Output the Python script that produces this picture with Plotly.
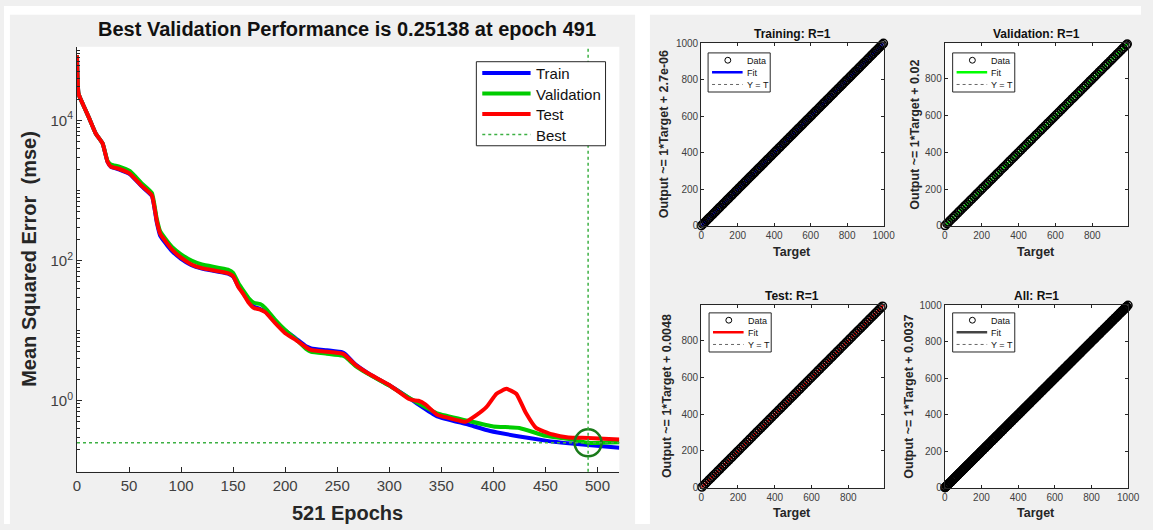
import plotly.graph_objects as go

# ---------------- performance curve data ----------------
epochs_train = [0, 1.5, 6, 12, 18, 24.6, 29.3, 32.5, 40, 51, 62, 72, 76.6, 80, 86, 91, 100,
                110, 120, 145, 150, 155, 160, 165, 170, 176, 181, 190, 200, 210, 220, 225,
                240, 255, 258, 268, 280, 300, 318, 326, 346, 375, 397, 425, 450, 475, 491, 521]
mse_train = [85000, 24000, 16600, 10500, 6500, 4700, 2570, 2190, 2000, 1700, 1150, 830, 355, 225, 170,
             138, 106, 86, 77, 65, 59, 43, 34, 26, 22, 20.4, 18.6, 13.5, 10.0,
             7.8, 6.0, 5.6, 5.25, 4.9, 4.6, 3.25, 2.45, 1.66, 1.12, 0.93, 0.60, 0.46, 0.37,
             0.31, 0.27, 0.245, 0.234, 0.214]

epochs_val = [0, 1.5, 6, 12, 18, 24.6, 29.3, 32.5, 40, 51, 62, 72, 76.6, 80, 86, 91, 100,
              110, 120, 145, 150, 155, 160, 165, 170, 176, 181, 190, 200, 210, 220, 225,
              240, 255, 258, 268, 280, 300, 318, 326, 346, 375, 400, 425, 450, 479, 491, 521]
mse_val = [85000, 24000, 16600, 10500, 6500, 4700, 2650, 2350, 2200, 1880, 1270, 920, 400, 260, 195,
           158, 123, 100, 88, 74, 67, 48, 37, 29, 25, 24, 21, 14.5, 10.2,
           7.6, 5.5, 5.0, 4.7, 4.4, 4.2, 3.1, 2.4, 1.65, 1.12, 0.96, 0.66, 0.52, 0.43,
           0.41, 0.316, 0.275, 0.25138, 0.257]

epochs_test = [0, 1.5, 6, 12, 18, 24.6, 29.3, 32.5, 40, 51, 62, 72, 76.6, 80, 86, 91, 100,
               110, 120, 145, 150, 155, 160, 165, 170, 176, 181, 190, 200, 210, 220, 225,
               240, 255, 258, 268, 280, 300, 318, 323, 328, 335, 346, 365, 373, 384, 393.5,
               403, 412.5, 422, 431, 441, 457, 472, 491, 521]
mse_test = [85000, 24000, 16600, 10500, 6500, 4700, 2570, 2190, 2040, 1730, 1170, 850, 370, 240, 180,
            145, 110, 88, 78, 66, 60, 42, 33, 25, 21, 20, 18.3, 13, 9.2,
            7.4, 5.8, 5.3, 5.0, 4.7, 4.4, 3.2, 2.45, 1.68, 1.08, 1.02, 1.0, 0.88, 0.63, 0.53, 0.50,
            0.63, 0.82, 1.26, 1.48, 1.26, 0.68, 0.41, 0.33, 0.30, 0.295, 0.28]

best_epoch = 491
best_perf = 0.25138
total_epochs = 521
x_ticks_perf = [0, 50, 100, 150, 200, 250, 300, 350, 400, 450, 500]
y_ticks_perf = [1, 100, 10000]
y_ticktext_perf = ["10<sup>0</sup>", "10<sup>2</sup>", "10<sup>4</sup>"]
perf_legend_names = ["Train", "Validation", "Test", "Best"]

# ---------------- regression data (points lie on Y = T, R = 1) ----------------
train_targets = [1, 9, 16, 24, 33, 41, 48, 57, 65, 72, 80, 89, 97, 104, 113, 121, 128, 137, 145, 152,
                 161, 169, 176, 185, 193, 200, 209, 217, 224, 233, 241, 248, 257, 265, 272, 281, 289,
                 296, 305, 313, 320, 329, 337, 344, 353, 361, 368, 377, 385, 392, 401, 409, 416, 425,
                 433, 440, 449, 457, 464, 473, 481, 488, 497, 505, 512, 521, 529, 536, 545, 553, 560,
                 569, 577, 584, 593, 601, 608, 617, 625, 632, 641, 649, 656, 665, 673, 680, 689, 697,
                 704, 713, 721, 728, 737, 745, 752, 761, 769, 776, 785, 793, 800, 809, 817, 824, 833,
                 841, 848, 857, 865, 872, 881, 889, 896, 905, 913, 920, 929, 937, 944, 953, 961, 968,
                 977, 985, 992, 999]
val_targets = [2, 12, 21, 31, 42, 51, 60, 71, 80, 90, 101, 110, 119, 130, 140, 149, 160, 169, 178, 189,
               199, 208, 219, 228, 237, 248, 258, 267, 278, 287, 296, 307, 317, 326, 337, 346, 355, 366,
               376, 385, 396, 405, 414, 425, 435, 444, 455, 464, 473, 484, 494, 503, 514, 523, 532, 543,
               553, 562, 573, 582, 591, 602, 612, 621, 632, 641, 650, 661, 671, 680, 691, 700, 709, 720,
               730, 739, 750, 759, 768, 779, 789, 798, 809, 818, 827, 838, 848, 857, 868, 877, 886, 897,
               907, 916, 927, 936, 945, 956, 966, 975, 985, 990]
test_targets = [4, 14, 24, 33, 44, 54, 63, 73, 83, 93, 102, 112, 122, 131, 141, 151, 161, 170, 180, 190,
                199, 209, 219, 229, 238, 248, 258, 267, 277, 287, 297, 306, 316, 326, 335, 345, 355, 365,
                374, 384, 394, 403, 413, 423, 433, 442, 452, 462, 471, 481, 491, 501, 510, 520, 530, 539,
                549, 559, 569, 578, 588, 598, 607, 617, 627, 637, 646, 656, 666, 675, 685, 695, 705, 714,
                724, 734, 743, 753, 763, 773, 782, 792, 802, 811, 821, 831, 841, 850, 860, 870, 879, 889,
                899, 909, 918, 928, 938, 947, 957, 967, 977, 986]
# outputs coincide with the targets in the picture (R = 1)
train_outputs = list(train_targets)
val_outputs = list(val_targets)
test_outputs = list(test_targets)
all_targets = train_targets + val_targets + test_targets
all_outputs = train_outputs + val_outputs + test_outputs

panel_names = ["Training", "Validation", "Test", "All"]
panel_r = ["1", "1", "1", "1"]
fit_slopes = [1, 1, 1, 1]
fit_offsets = [2.7e-06, 0.02, 0.0048, 0.0037]
fit_offset_labels = ["2.7e-06", "0.02", "0.0048", "0.0037"]
reg_legend_names = ["Data", "Fit", "Y = T"]
axis_max = [1000, 995, 992, 1000]
panel_ticks = [[0, 200, 400, 600, 800, 1000], [0, 200, 400, 600, 800],
               [0, 200, 400, 600, 800], [0, 200, 400, 600, 800, 1000]]

# ---------------- styling ----------------
W, H = 1153, 530
FONT = "Liberation Sans, Arial, Helvetica, sans-serif"
AX = "#262626"
TICKC = "#404040"
BLUE, GREEN, RED = "#0000ff", "#00cc00", "#ff0000"
BEST_GREEN = "#3cb043"
CIRCLE_GREEN = "#1a7a1a"
fit_colors = ["#0000ff", "#00ff00", "#ff0000", "#444444"]


def fx(p):
    return p / W


def fy(p):
    return 1 - p / H


fig = go.Figure()
shapes = []
annotations = []

perf_series = [(epochs_train, mse_train, BLUE), (epochs_val, mse_val, GREEN), (epochs_test, mse_test, RED)]
for name, (ep, vals, col) in zip(perf_legend_names[:3], perf_series):
    fig.add_trace(go.Scatter(x=ep, y=vals, mode="lines", name=name, showlegend=False,
                             line=dict(color=col, width=4, shape="spline", smoothing=0.4),
                             xaxis="x", yaxis="y"))

fig.add_trace(go.Scatter(x=[best_epoch], y=[best_perf], mode="markers", showlegend=False, name="Best",
                         marker=dict(symbol="circle-open", size=27,
                                     line=dict(color=CIRCLE_GREEN, width=2.5), color=CIRCLE_GREEN),
                         xaxis="x", yaxis="y"))

shapes += [
    dict(type="line", xref="x", yref="y domain", x0=best_epoch, x1=best_epoch, y0=0, y1=1,
         line=dict(color=BEST_GREEN, width=1.5, dash="dot"), layer="above"),
    dict(type="line", xref="x domain", yref="y", x0=0, x1=1, y0=best_perf, y1=best_perf,
         line=dict(color=BEST_GREEN, width=1.5, dash="dot"), layer="above"),
    # white margins around the grey figure panels
    dict(type="rect", xref="paper", yref="paper", x0=0, x1=1, y0=fy(9), y1=1,
         fillcolor="white", line=dict(width=0), layer="above"),
    dict(type="rect", xref="paper", yref="paper", x0=0, x1=fx(6), y0=0, y1=1,
         fillcolor="white", line=dict(width=0), layer="above"),
    dict(type="rect", xref="paper", yref="paper", x0=fx(640), x1=fx(655), y0=0, y1=1,
         fillcolor="white", line=dict(width=0), layer="above"),
]


def add_box(x0, y0, x1, y1):
    shapes.append(dict(type="rect", xref="paper", yref="paper", x0=fx(x0), x1=fx(x1), y0=fy(y1),
                       y1=fy(y0), fillcolor="white", line=dict(color=AX, width=1), layer="above"))


def add_legend_line(x0, x1, yy, color, width, dash):
    shapes.append(dict(type="line", xref="paper", yref="paper", x0=fx(x0), x1=fx(x1), y0=fy(yy),
                       y1=fy(yy), line=dict(color=color, width=width, dash=dash), layer="above"))


def add_legend_text(x, yy, text, size):
    annotations.append(dict(text=text, x=fx(x), y=fy(yy), xref="paper", yref="paper", showarrow=False,
                            xanchor="left", yanchor="middle",
                            font=dict(size=size, color="#111111", family=FONT)))


# main legend (Train / Validation / Test / Best)
add_box(479, 57, 610, 143)
perf_leg_styles = [(BLUE, 4, "solid"), (GREEN, 4, "solid"), (RED, 4, "solid"), (BEST_GREEN, 1.5, "dot")]
for j, (nm, (col, wd, ds)) in enumerate(zip(perf_legend_names, perf_leg_styles)):
    yy = 68.5 + 21 * j
    add_legend_line(485, 534, yy, col, wd, ds)
    add_legend_text(537, yy + 1, nm, 15)

annotations += [
    dict(text="<b>Best Validation Performance is 0.25138 at epoch 491</b>", x=fx(348), y=fy(24),
         xref="paper", yref="paper", showarrow=False, xanchor="center", yanchor="middle",
         font=dict(size=20, color="#111111", family=FONT)),
    dict(text="<b>Mean Squared Error  (mse)</b>", x=fx(25), y=fy(259), xref="paper", yref="paper",
         showarrow=False, textangle=-90, xanchor="center", yanchor="middle",
         font=dict(size=20, color="#262626", family=FONT)),
    dict(text="<b>521 Epochs</b>", x=fx(348), y=fy(519), xref="paper", yref="paper",
         showarrow=False, xanchor="center", yanchor="middle",
         font=dict(size=20, color="#262626", family=FONT)),
]

panel_series = [(train_targets, train_outputs), (val_targets, val_outputs),
                (test_targets, test_outputs), (all_targets, all_outputs)]
# pixel boxes of the four regression axes: (left, right, top, bottom)
panel_boxes = [(707, 892, 38, 225), (954, 1140, 38, 225), (707, 892, 306, 493), (954, 1140, 306, 493)]
legend_pos = [(714, 48), (962, 48), (715, 314), (962, 314)]
ylabel_x = [669, 923, 673, 918]
title_y = [29, 29, 297, 297]
xlabel_y = [252, 252, 519, 519]

layout_axes = {}
for i in range(4):
    k = i + 2
    xa, ya = f"x{k}", f"y{k}"
    tgt, out = panel_series[i]
    amax = axis_max[i]
    fit_x = [0, amax]
    fit_y = [fit_slopes[i] * v + fit_offsets[i] for v in fit_x]
    fig.add_trace(go.Scatter(x=fit_x, y=fit_y, mode="lines", name="Fit", showlegend=False,
                             line=dict(color=fit_colors[i], width=2.5), xaxis=xa, yaxis=ya))
    fig.add_trace(go.Scatter(x=[0, amax], y=[0, amax], mode="lines", name="Y = T", showlegend=False,
                             line=dict(color="#555555", width=1, dash="dot"), xaxis=xa, yaxis=ya))
    fig.add_trace(go.Scatter(x=tgt, y=out, mode="markers", name="Data", showlegend=False,
                             cliponaxis=False,
                             marker=dict(symbol="circle-open", size=8, color="black",
                                         line=dict(color="black", width=1.5)),
                             xaxis=xa, yaxis=ya))
    l, r, t, b = panel_boxes[i]
    common = dict(showline=True, linecolor=AX, linewidth=1, mirror="ticks", ticks="inside",
                  ticklen=3, tickcolor=AX, showgrid=False, zeroline=False,
                  tickfont=dict(size=10, color=TICKC, family=FONT), tickmode="array",
                  tickvals=panel_ticks[i], range=[0, amax], fixedrange=True)
    layout_axes[f"xaxis{k}"] = dict(domain=[fx(l), fx(r)], anchor=ya, **common)
    layout_axes[f"yaxis{k}"] = dict(domain=[fy(b), fy(t)], anchor=xa, **common)

    # small legend (Data / Fit / Y = T)
    bx, by = legend_pos[i]
    add_box(bx, by, bx + 63, by + 40)
    rows = [by + 7.5, by + 19.8, by + 32.3]
    shapes.append(dict(type="circle", xref="paper", yref="paper", x0=fx(bx + 17), x1=fx(bx + 23),
                       y0=fy(rows[0] + 3), y1=fy(rows[0] - 3), line=dict(color="black", width=1),
                       fillcolor="rgba(0,0,0,0)", layer="above"))
    add_legend_line(bx + 4, bx + 35, rows[1], fit_colors[i], 2.5, "solid")
    add_legend_line(bx + 4, bx + 35, rows[2], "#666666", 1, "dot")
    for nm, yy in zip(reg_legend_names, rows):
        add_legend_text(bx + 37, yy + 0.5, nm, 9)

    cx = fx((l + r) / 2)
    annotations.append(dict(text=f"<b>{panel_names[i]}: R={panel_r[i]}</b>", x=cx, y=fy(title_y[i]),
                            xref="paper", yref="paper", showarrow=False, xanchor="center",
                            yanchor="middle", font=dict(size=12, color="#111111", family=FONT)))
    annotations.append(dict(text="<b>Target</b>", x=cx, y=fy(xlabel_y[i]), xref="paper", yref="paper",
                            showarrow=False, xanchor="center", yanchor="middle",
                            font=dict(size=12.5, color="#262626", family=FONT)))
    annotations.append(dict(text=f"<b>Output ~= {fit_slopes[i]}*Target + {fit_offset_labels[i]}</b>",
                            x=fx(ylabel_x[i]), y=fy((t + b) / 2), xref="paper", yref="paper",
                            showarrow=False, textangle=-90, xanchor="center", yanchor="middle",
                            font=dict(size=12.5, color="#262626", family=FONT)))

fig.update_layout(
    width=W, height=H, margin=dict(l=0, r=0, t=0, b=0),
    paper_bgcolor="#f0f0f0", plot_bgcolor="white",
    font=dict(family=FONT, color=AX), showlegend=False,
    xaxis=dict(domain=[fx(74), fx(624)], anchor="y", range=[0, total_epochs], showline=True,
               linecolor=AX, linewidth=1, ticks="inside", ticklen=5, tickcolor=AX, showgrid=False,
               zeroline=False, tickmode="array", tickvals=x_ticks_perf,
               tickfont=dict(size=15, color=TICKC, family=FONT), fixedrange=True),
    yaxis=dict(domain=[fy(476.5), fy(41.7)], anchor="x", type="log", range=[-1.012, 5.05],
               showline=True, linecolor=AX, linewidth=1, ticks="inside", ticklen=5, tickcolor=AX,
               showgrid=False, zeroline=False, tickmode="array", tickvals=y_ticks_perf,
               ticktext=y_ticktext_perf, tickfont=dict(size=15, color=TICKC, family=FONT),
               minor=dict(ticks="inside", ticklen=3, tickcolor=AX, dtick="D1", showgrid=False),
               fixedrange=True),
    shapes=shapes, annotations=annotations,
    **layout_axes,
)

page_fix = ("var s=document.createElement('style');"
            "s.textContent='html,body{margin:0!important;padding:0!important;overflow:hidden!important;"
            "width:1153px;height:530px;}';"
            "document.head.appendChild(s);"
            "var d=document.getElementById('{plot_id}');"
            "d.style.position='absolute';d.style.left='0px';d.style.top='0px';")

fig.write_html("out.html", config=dict(displayModeBar=False), post_script=page_fix)
